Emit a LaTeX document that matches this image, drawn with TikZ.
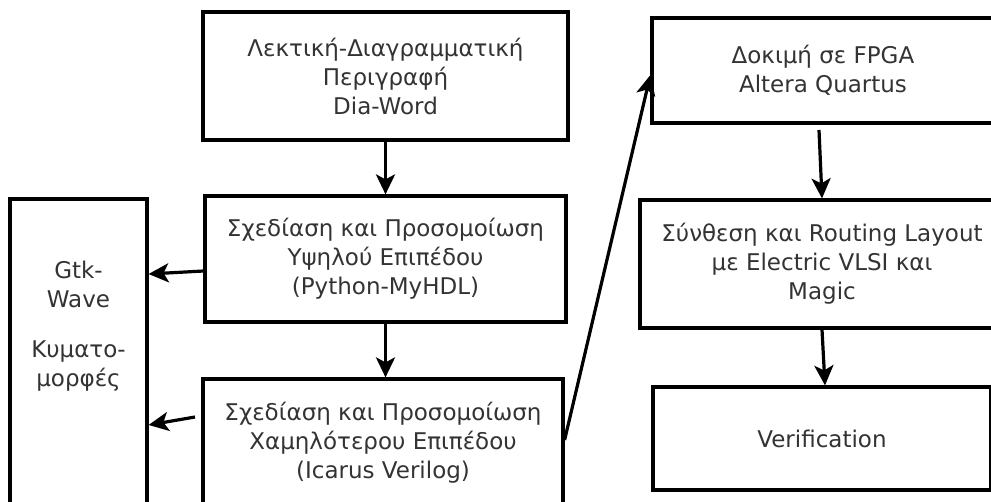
\documentclass[tikz,border=0pt]{standalone}
\usepackage{fontspec}
\setmainfont{DejaVu Sans}
\usetikzlibrary{arrows.meta}
\usetikzlibrary{positioning}

\begin{document}
\begin{tikzpicture}[x=1pt,y=-1pt,->,>={Stealth[length=20pt,width=19pt,inset=5pt]},line width=3.2pt,
    stage/.style={rectangle,draw,line width=3.2pt,align=center,text=black!80,font=\fontsize{23}{29}\selectfont,inner sep=0pt},
    plain text/.style={align=center,text=black!80,font=\fontsize{23}{29}\selectfont,inner sep=0pt}]
    \useasboundingbox (0,0) rectangle (991,501);
    % left column
    \node[stage,minimum width=137,minimum height=312] (gtk) at (78.5,355) {};
    \node[plain text,anchor=north] (gtk text) at (78.5,259) {Gtk-\\Wave\\[21pt]Κυματο-\\μορφές};
    % middle column
    \node[stage,minimum width=365,minimum height=128] (spec) at (385.5,76) {Λεκτική-Διαγραμματική\\Περιγραφή\\Dia-Word};
    \node[stage,minimum width=361,minimum height=126] (high) at (385.5,259) {Σχεδίαση και Προσομοίωση\\Υψηλού Επιπέδου\\(Python-MyHDL)};
    \node[stage,minimum width=360,minimum height=128] (low) at (383,443) {Σχεδίαση και Προσομοίωση\\Χαμηλότερου Επιπέδου\\(Icarus Verilog)};
    % right column
    \node[stage,minimum width=342,minimum height=105] (fpga) at (823,70.5) {Δοκιμή σε FPGA\\Altera Quartus};
    \node[stage,minimum width=364,minimum height=128] (layout) at (822,264) {Σύνθεση και Routing Layout\\με Electric VLSI και\\Magic};
    \node[stage,minimum width=338,minimum height=103] (verif) at (822,438.5) {Verification};

    \coordinate (low out) at (195,417);
    \coordinate (fpga out) at (819,130);

    \draw (spec.south) -- (high.north);
    \draw (high.south) -- (high.south |- low.north);
    \draw (high.west |- 0,271) -- (gtk.east |- 0,274);
    \draw (low out) -- (gtk.east |- 0,425);
    \draw (low.east |- 0,440) -- (fpga.west |- 0,75);
    \draw (fpga out) -- (layout.north);
    \draw (layout.south) -- ([xshift=3pt]verif.north);
\end{tikzpicture}
\end{document}
